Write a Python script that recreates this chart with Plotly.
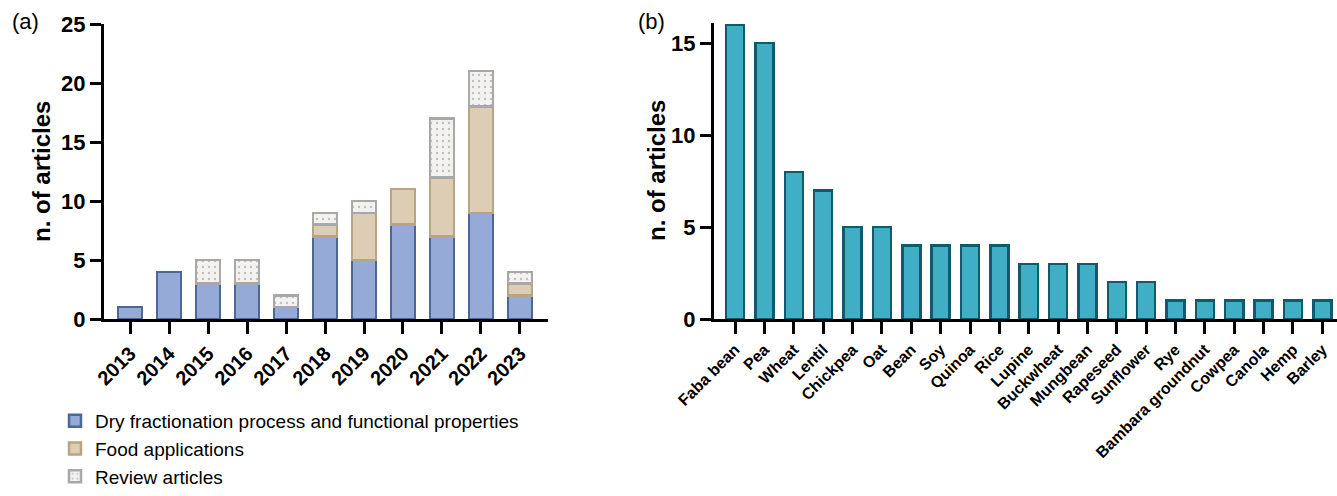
import plotly.graph_objects as go

# ---- Panel (a) data ----
years = ["2013", "2014", "2015", "2016", "2017", "2018", "2019", "2020", "2021", "2022", "2023"]
dry_fractionation = [1, 4, 3, 3, 1, 7, 5, 8, 7, 9, 2]
food_applications = [0, 0, 0, 0, 0, 1, 4, 3, 5, 9, 1]
review_articles = [0, 0, 2, 2, 1, 1, 1, 0, 5, 3, 1]

# ---- Panel (b) data ----
crops = ["Faba bean", "Pea", "Wheat", "Lentil", "Chickpea", "Oat", "Bean", "Soy", "Quinoa",
         "Rice", "Lupine", "Buckwheat", "Mungbean", "Rapeseed", "Sunflower", "Rye",
         "Bambara groundnut", "Cowpea", "Canola", "Hemp", "Barley"]
crop_counts = [16, 15, 8, 7, 5, 5, 4, 4, 4, 4, 3, 3, 3, 2, 2, 1, 1, 1, 1, 1, 1]

FONT = "Arial, Liberation Sans, sans-serif"
W, H = 1337, 496


def nz(values):
    # zero-height segments are not drawn (no outline on top of the stack)
    return [v if v else None for v in values]


fig = go.Figure()

fig.add_trace(go.Bar(
    x=years, y=nz(dry_fractionation), name="Dry fractionation process and functional properties",
    marker=dict(color="#95AAD6", line=dict(color="#4E6896", width=2.5)),
    xaxis="x", yaxis="y"))
fig.add_trace(go.Bar(
    x=years, y=nz(food_applications), name="Food applications",
    marker=dict(color="#DCCDB4", line=dict(color="#B7A482", width=2.5)),
    xaxis="x", yaxis="y"))
fig.add_trace(go.Bar(
    x=years, y=nz(review_articles), name="Review articles",
    marker=dict(color="#F4F2EF", line=dict(color="#A8A8A8", width=2.5),
                pattern=dict(shape=".", fgcolor="#8C8C8C", bgcolor="#F4F2EF", size=6, solidity=0.12)),
    xaxis="x", yaxis="y"))

fig.add_trace(go.Bar(
    x=crops, y=crop_counts, name="crops", showlegend=False,
    marker=dict(color="#40AEC4", line=dict(color="#0F5A6D", width=2.5)),
    xaxis="x2", yaxis="y2"))


def px_x(p):
    return p / W


def px_y(p):
    return 1 - p / H


axis_common = dict(showline=True, linecolor="black", linewidth=3, ticks="outside",
                   tickcolor="black", tickwidth=3, showgrid=False, zeroline=False,
                   automargin=False)

fig.update_layout(
    width=W, height=H,
    margin=dict(l=0, r=0, t=0, b=0),
    paper_bgcolor="white", plot_bgcolor="white",
    barmode="stack", bargap=0.385,
    font=dict(family=FONT, color="black"),
    xaxis=dict(domain=[px_x(104), px_x(548)], range=[-0.67, 10.72], anchor="y",
               ticklen=12, tickangle=-45,
               tickfont=dict(size=20, family=FONT, weight="bold"), **axis_common),
    yaxis=dict(domain=[px_y(319), px_y(24)], range=[0, 25], anchor="x",
               tickvals=[0, 5, 10, 15, 20, 25], ticklen=11,
               tickfont=dict(size=22, family=FONT, weight="bold"),
               **axis_common),
    xaxis2=dict(domain=[px_x(714), 1.0], range=[-0.72, 20.5], anchor="y2",
                ticklen=12, tickangle=-45,
                tickfont=dict(size=16, family=FONT, weight="bold"), **axis_common),
    yaxis2=dict(domain=[px_y(319), px_y(23)], range=[0, 16.1], anchor="x2",
                tickvals=[0, 5, 10, 15], ticklen=11,
                tickfont=dict(size=22, family=FONT, weight="bold"),
                **axis_common),
    legend=dict(x=px_x(55), y=0, xanchor="left", yanchor="bottom",
                font=dict(size=19, family=FONT), traceorder="normal",
                bgcolor="rgba(0,0,0,0)", itemwidth=30),
    showlegend=True,
    annotations=[
        dict(text="(a)", x=px_x(10), y=px_y(22), xref="paper", yref="paper",
             xanchor="left", yanchor="middle", showarrow=False, font=dict(size=22, family=FONT)),
        dict(text="(b)", x=px_x(636), y=px_y(22), xref="paper", yref="paper",
             xanchor="left", yanchor="middle", showarrow=False, font=dict(size=22, family=FONT)),
        dict(text="<b>n. of articles</b>", x=px_x(41), y=px_y(172), xref="paper", yref="paper",
             xanchor="center", yanchor="middle", textangle=-90, showarrow=False,
             font=dict(size=24, family=FONT)),
        dict(text="<b>n. of articles</b>", x=px_x(656), y=px_y(171), xref="paper", yref="paper",
             xanchor="center", yanchor="middle", textangle=-90, showarrow=False,
             font=dict(size=24, family=FONT)),
    ],
)

fig.write_html("out.html", config={"displayModeBar": False},
               post_script="document.body.style.margin='0';document.body.style.overflow='hidden';")
